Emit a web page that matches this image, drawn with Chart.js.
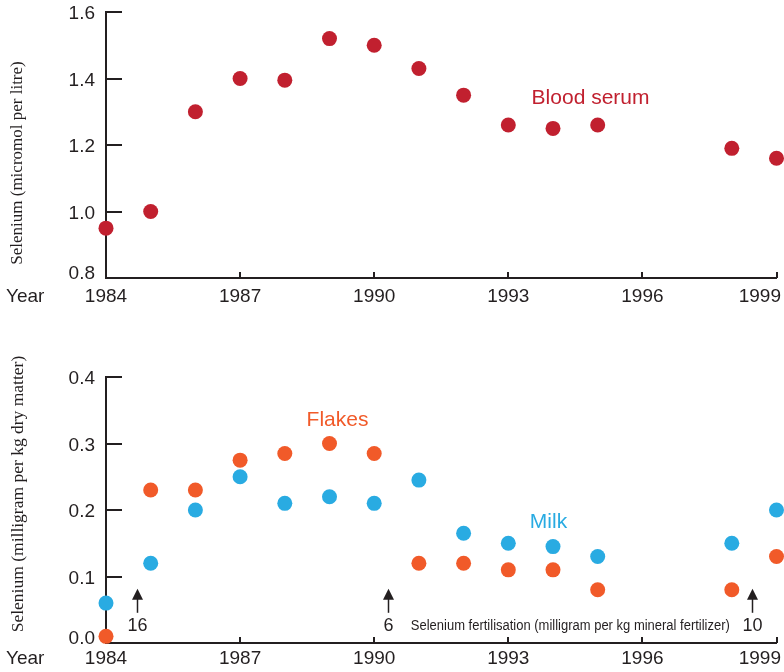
<!DOCTYPE html>
<html><head><meta charset="utf-8">
<script src="https://cdn.jsdelivr.net/npm/chart.js@4/dist/chart.umd.min.js"></script>
<style>
html,body{margin:0;padding:0;background:#fff;}
body{width:784px;height:672px;position:relative;overflow:hidden;}
canvas{position:absolute;left:0;}
#c1{top:0;} #c2{top:340px;}
</style></head><body>
<canvas id="c1" width="784" height="310"></canvas>
<canvas id="c2" width="784" height="332"></canvas>
<script>
// ---- data ----
const serumYears  = [1984,1985,1986,1987,1988,1989,1990,1991,1992,1993,1994,1995,1998,1999];
const serumValues = [0.95,1.00,1.30,1.40,1.395,1.52,1.50,1.43,1.35,1.26,1.25,1.26,1.19,1.16];
const feedYears   = [1984,1985,1986,1987,1988,1989,1990,1991,1992,1993,1994,1995,1998,1999];
const milkValues  = [0.06,0.12,0.20,0.25,0.21,0.22,0.21,0.245,0.165,0.15,0.145,0.13,0.15,0.20];
const flakesValues= [0.01,0.23,0.23,0.275,0.285,0.30,0.285,0.12,0.12,0.11,0.11,0.08,0.08,0.13];
const xTicks      = [1984,1987,1990,1993,1996,1999];
const serumTicks  = [0.8,1.0,1.2,1.4,1.6];
const feedTicks   = [0.0,0.1,0.2,0.3,0.4];
const fertYears   = [1984.7,1990.3,1998.45];
const fertLabels  = ['16','6','10'];
const fertTip     = 0.08;

const INK = '#231F20';
const RED = '#C1202F';
const ORANGE = '#F15A29';
const BLUE = '#29ABE2';
const SANS = '"Liberation Sans", Arial, Helvetica, sans-serif';
const SERIF = '"Liberation Serif", "Times New Roman", serif';

function pts(xs, ys){ return xs.map((x,i)=>({x:x, y:ys[i]})); }

const decor = {
  id: 'decor',
  beforeDatasetsDraw(chart, args, o) {
    const ctx = chart.ctx, xs = chart.scales.x, ys = chart.scales.y;
    ctx.save(); ctx.strokeStyle = INK; ctx.lineWidth = 2;
    ys.ticks.forEach(t => {
      const y = Math.round(ys.getPixelForValue(t.value));
      ctx.beginPath(); ctx.moveTo(xs.left, y); ctx.lineTo(xs.left + 16, y); ctx.stroke();
    });
    xs.ticks.forEach((t, i) => {
      if (i === 0) return;
      const x = Math.round(xs.getPixelForValue(t.value));
      ctx.beginPath(); ctx.moveTo(x, ys.bottom); ctx.lineTo(x, ys.bottom - 6); ctx.stroke();
    });
    ctx.restore();
  },
  afterDraw(chart, args, o) {
    const ctx = chart.ctx, xs = chart.scales.x, ys = chart.scales.y;
    ctx.save();
    ctx.fillStyle = INK;
    ctx.font = '19px ' + SANS;
    // y tick labels
    ctx.textAlign = 'right';
    ys.ticks.forEach((t, i) => {
      const y = ys.getPixelForValue(t.value);
      const base = (i === 0) ? ys.bottom + 1 : y + 7;
      ctx.fillText(t.value.toFixed(1), xs.left - 11, base);
    });
    // x tick labels
    ctx.textAlign = 'left';
    const xb = ys.bottom + o.xBase;
    xs.ticks.forEach(t => {
      const lab = String(t.value);
      const w = ctx.measureText(lab).width;
      let x = xs.getPixelForValue(t.value) - w / 2;
      if (x + w > chart.width - 3) x = chart.width - 3 - w;
      ctx.fillText(lab, x, xb);
    });
    ctx.fillText('Year', 6, xb);
    // y title
    ctx.save();
    ctx.font = o.titleSize + 'px ' + SERIF;
    ctx.translate(18, o.titleY);
    ctx.rotate(-Math.PI / 2);
    ctx.textAlign = 'center'; ctx.textBaseline = 'middle';
    ctx.fillText(o.title, 0, 0);
    ctx.restore();
    // series labels
    ctx.font = '21px ' + SANS;
    ctx.textAlign = 'center'; ctx.textBaseline = 'middle';
    (o.labels || []).forEach(l => {
      ctx.fillStyle = l.color;
      ctx.fillText(l.text, xs.getPixelForValue(l.x), ys.getPixelForValue(l.y));
    });
    // arrows
    if (o.arrows) {
      ctx.fillStyle = INK; ctx.strokeStyle = INK; ctx.lineWidth = 1.5;
      const tipY = ys.getPixelForValue(fertTip);
      fertYears.forEach((yr, i) => {
        const x = Math.round(xs.getPixelForValue(yr)) + 0.5;
        ctx.beginPath(); ctx.moveTo(x, tipY + 8); ctx.lineTo(x, tipY + 23); ctx.stroke();
        ctx.beginPath(); ctx.moveTo(x, tipY - 1); ctx.lineTo(x + 5.5, tipY + 10); ctx.lineTo(x - 5.5, tipY + 10); ctx.closePath(); ctx.fill();
        ctx.font = '18px ' + SANS; ctx.textAlign = 'center'; ctx.textBaseline = 'alphabetic';
        ctx.fillText(fertLabels[i], x, ys.bottom - 12);
      });
      // caption
      const cap = 'Selenium fertilisation (milligram per kg mineral fertilizer)';
      ctx.font = '14px "Liberation Sans Narrow", "Arial Narrow", ' + SANS;
      ctx.textAlign = 'left';
      const w = ctx.measureText(cap).width;
      const cx = xs.getPixelForValue(1990.82);
      ctx.save();
      ctx.translate(cx, ys.bottom - 13);
      ctx.scale(319 / w, 1);
      ctx.fillText(cap, 0, 0);
      ctx.restore();
    }
    ctx.restore();
  }
};

function xScale(h) {
  return {
    type: 'linear', min: 1984, max: 1999,
    afterBuildTicks: s => { s.ticks = xTicks.map(v => ({value: v})); },
    afterFit: s => { s.height = h; s.paddingLeft = 0; s.paddingRight = 0; },
    ticks: {display: false},
    grid: {display: false},
    border: {display: true, color: INK, width: 2}
  };
}
function yScale(min, max, ticks) {
  return {
    type: 'linear', min: min, max: max,
    afterBuildTicks: s => { s.ticks = ticks.map(v => ({value: v})); },
    afterFit: s => { s.width = 106; s.paddingTop = 0; s.paddingBottom = 0; },
    ticks: {display: false},
    grid: {display: false},
    border: {display: true, color: INK, width: 2}
  };
}
const common = {
  responsive: false, animation: false, devicePixelRatio: 1,
  plugins: {legend: {display: false}, tooltip: {enabled: false}},
  elements: {point: {radius: 7.5, borderWidth: 0, hoverRadius: 7.5}}
};

new Chart(document.getElementById('c1'), {
  type: 'scatter',
  data: {datasets: [{data: pts(serumYears, serumValues), backgroundColor: RED, borderColor: RED, clip: false}]},
  options: Object.assign({}, common, {
    layout: {padding: {top: 12, right: 7, left: 0, bottom: 0}},
    scales: {x: xScale(32), y: yScale(0.8, 1.6, serumTicks)},
    plugins: Object.assign({}, common.plugins, {
      decor: {xBase: 24, title: 'Selenium (micromol per litre)', titleY: 163, titleSize: 17,
        labels: [{text: 'Blood serum', x: 1994.84, y: 1.34, color: RED}]}
    })
  }),
  plugins: [decor]
});

new Chart(document.getElementById('c2'), {
  type: 'scatter',
  data: {datasets: [
    {data: pts(feedYears, flakesValues), backgroundColor: ORANGE, borderColor: ORANGE, clip: false},
    {data: pts(feedYears, milkValues), backgroundColor: BLUE, borderColor: BLUE, clip: false}
  ]},
  options: Object.assign({}, common, {
    layout: {padding: {top: 37, right: 7, left: 0, bottom: 0}},
    scales: {x: xScale(29), y: yScale(0, 0.4, feedTicks)},
    plugins: Object.assign({}, common.plugins, {
      decor: {xBase: 21, title: 'Selenium (milligram per kg dry matter)', titleY: 154, titleSize: 17.5, arrows: true,
        labels: [{text: 'Flakes', x: 1989.18, y: 0.335, color: ORANGE},
                 {text: 'Milk', x: 1993.9, y: 0.1824, color: BLUE}]}
    })
  }),
  plugins: [decor]
});
</script>
</body></html>
